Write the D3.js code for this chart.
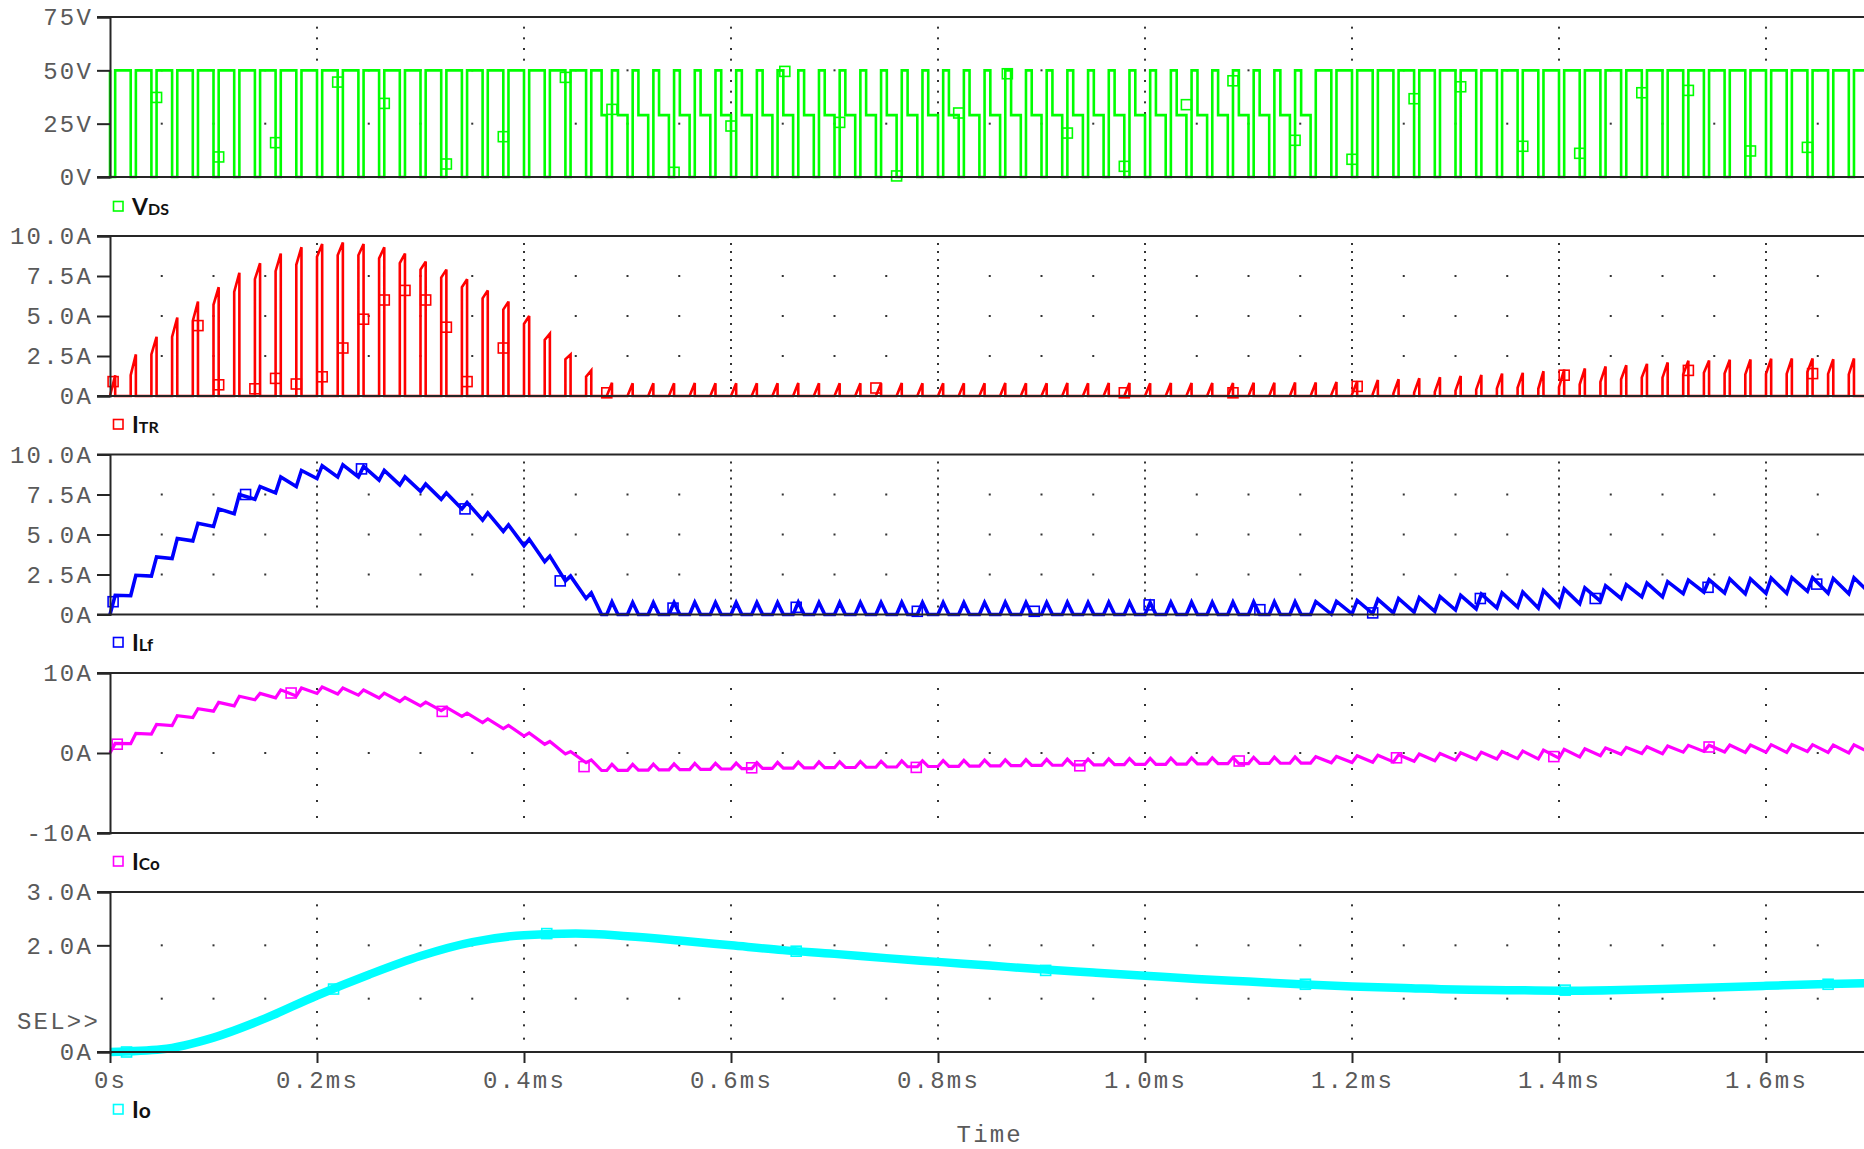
<!DOCTYPE html>
<html>
<head>
<meta charset="utf-8">
<script src="https://cdn.jsdelivr.net/npm/d3@7"></script>
<style>
  html, body { margin: 0; padding: 0; background: #fff; }
  svg { display: block; }
</style>
</head>
<body>
<svg id="chart" width="1864" height="1149"></svg>
<script>
// ---------------- data ----------------
const timeTickValues = [0, 0.2, 0.4, 0.6, 0.8, 1.0, 1.2, 1.4, 1.6];
const timeTickLabels = ["0s", "0.2ms", "0.4ms", "0.6ms", "0.8ms", "1.0ms", "1.2ms", "1.4ms", "1.6ms"];

const switchPeriod = 0.02;      // ms (50 kHz)
const onFraction = 0.25;        // switch conduction share of each period
const dcmFallRate = 2.7;        // A per period, inductor discharge once the load path is empty
const vdsLevels = [0, 29, 50];  // V: switch on, idle (inductor empty), reset

// inductor current: value at turn-on (valley) and turn-off (peak) of each cycle
const ilfValley = [0, 1.17, 2.4, 3.5, 4.6, 5.5, 6.3, 7.2, 7.6, 8.0, 8.5, 8.6, 8.6, 8.4, 8.1, 7.7, 7.2, 6.6, 5.9, 5.2, 4.3, 3.3, 2.1, 1.0,
  0, 0, 0, 0, 0, 0, 0, 0, 0, 0, 0, 0, 0, 0, 0, 0, 0, 0, 0, 0, 0, 0, 0, 0, 0, 0, 0, 0, 0, 0, 0, 0, 0, 0, 0,
  0.02, 0.04, 0.06, 0.1, 0.15, 0.2, 0.28, 0.35, 0.42, 0.46, 0.4, 0.5, 0.67, 0.83, 1.0, 1.1, 1.1, 1.3, 1.4, 1.35, 1.3, 1.33, 1.33, 1.45, 1.33, 1.3, 1.35];
const ilfPeak = [1.2, 2.45, 3.6, 4.75, 5.7, 6.6, 7.5, 8.0, 8.6, 9.0, 9.3, 9.35, 9.25, 9.0, 8.6, 8.15, 7.6, 7.0, 6.35, 5.6, 4.7, 3.65, 2.4, 1.35,
  0.78, 0.75, 0.74, 0.75, 0.76, 0.75, 0.74, 0.75, 0.75, 0.76, 0.75, 0.74, 0.75, 0.75, 0.76, 0.75, 0.75, 0.74, 0.75, 0.76, 0.75, 0.75, 0.76, 0.75, 0.76, 0.76, 0.75, 0.76, 0.77, 0.76, 0.77, 0.78, 0.78, 0.79, 0.8,
  0.82, 0.88, 0.95, 1.0, 1.06, 1.12, 1.2, 1.27, 1.35, 1.4, 1.5, 1.6, 1.67, 1.8, 1.87, 1.96, 2.05, 2.15, 2.17, 2.22, 2.23, 2.28, 2.3, 2.3, 2.25, 2.3];

// transformer / switch current pulses
const itrStart = [0, 1.3, 2.6, 3.7, 4.7, 5.7, 6.5, 7.3, 7.8, 8.2, 8.7, 8.8, 8.8, 8.6, 8.3, 7.9, 7.4, 6.8, 6.1, 5.4, 4.5, 3.5, 2.3, 1.2,
  0, 0, 0, 0, 0, 0, 0, 0, 0, 0, 0, 0, 0, 0, 0, 0, 0, 0, 0, 0, 0, 0, 0, 0, 0, 0, 0, 0, 0, 0, 0, 0, 0, 0, 0,
  0.07, 0.09, 0.11, 0.15, 0.2, 0.25, 0.33, 0.4, 0.47, 0.51, 0.45, 0.55, 0.72, 0.88, 1.05, 1.15, 1.15, 1.35, 1.45, 1.4, 1.35, 1.38, 1.38, 1.5, 1.38, 1.35];
const itrPeak = [1.3, 2.6, 3.7, 4.9, 5.9, 6.8, 7.7, 8.3, 8.9, 9.3, 9.5, 9.6, 9.5, 9.3, 8.9, 8.4, 7.9, 7.3, 6.6, 5.9, 5.0, 3.9, 2.6, 1.6,
  0.83, 0.8, 0.79, 0.8, 0.81, 0.8, 0.79, 0.8, 0.8, 0.81, 0.8, 0.79, 0.8, 0.8, 0.81, 0.8, 0.8, 0.79, 0.8, 0.81, 0.8, 0.8, 0.81, 0.8, 0.81, 0.81, 0.8, 0.81, 0.82, 0.81, 0.82, 0.83, 0.83, 0.84, 0.85,
  0.87, 0.93, 1.0, 1.05, 1.11, 1.17, 1.25, 1.32, 1.4, 1.45, 1.55, 1.65, 1.72, 1.85, 1.92, 2.01, 2.1, 2.2, 2.22, 2.27, 2.28, 2.33, 2.35, 2.35, 2.3, 2.35];

// output capacitor current at turn-on / turn-off of each cycle
const icoValley = [0, 1.16, 2.37, 3.42, 4.44, 5.23, 5.89, 6.65, 6.89, 7.12, 7.44, 7.38, 7.23, 6.88, 6.44, 5.9, 5.29, 4.59, 3.81, 3.05, 2.11, 1.09, -0.12, -1.21,
  -2.19, -2.17, -2.14, -2.11, -2.07, -2.04, -2.0, -1.96, -1.93, -1.9, -1.87, -1.84, -1.81, -1.78, -1.75, -1.72, -1.69, -1.66, -1.63, -1.61, -1.58, -1.55, -1.53, -1.5, -1.48, -1.45, -1.43, -1.41, -1.38, -1.36, -1.34, -1.32, -1.3, -1.28, -1.26,
  -1.23, -1.19, -1.16, -1.11, -1.04, -0.98, -0.89, -0.82, -0.74, -0.7, -0.75, -0.65, -0.48, -0.33, -0.16, -0.07, -0.08, 0.11, 0.2, 0.13, 0.07, 0.09, 0.08, 0.19, 0.06, 0.02, 0.06];
const icoPeak = [1.2, 2.44, 3.57, 4.67, 5.54, 6.33, 7.09, 7.45, 7.89, 8.12, 8.24, 8.13, 7.88, 7.48, 6.94, 6.35, 5.69, 4.99, 4.26, 3.45, 2.51, 1.44, 0.18, -0.86,
  -1.41, -1.42, -1.4, -1.36, -1.31, -1.29, -1.26, -1.21, -1.18, -1.14, -1.12, -1.1, -1.06, -1.03, -0.99, -0.97, -0.94, -0.92, -0.88, -0.85, -0.83, -0.8, -0.77, -0.75, -0.72, -0.69, -0.68, -0.65, -0.61, -0.6, -0.57, -0.54, -0.52, -0.49, -0.46,
  -0.43, -0.35, -0.27, -0.21, -0.13, -0.06, 0.03, 0.1, 0.19, 0.24, 0.35, 0.45, 0.52, 0.64, 0.71, 0.79, 0.87, 0.96, 0.97, 1.0, 1.0, 1.04, 1.05, 1.04, 0.98, 1.02];

// load current samples
const ioTime = [0, 0.05, 0.1, 0.15, 0.2, 0.25, 0.3, 0.35, 0.4, 0.45, 0.5, 0.55, 0.6, 0.65, 0.7, 0.75, 0.8, 0.85, 0.9,
  0.95, 1.0, 1.05, 1.1, 1.15, 1.2, 1.25, 1.3, 1.35, 1.4, 1.45, 1.5, 1.55, 1.6, 1.65, 1.7];
const ioValue = [0, 0.05, 0.27, 0.63, 1.06, 1.45, 1.8, 2.06, 2.19, 2.22, 2.17, 2.09, 2.0, 1.91, 1.84, 1.76, 1.69, 1.62, 1.55,
  1.49, 1.43, 1.37, 1.32, 1.27, 1.23, 1.2, 1.17, 1.16, 1.15, 1.16, 1.18, 1.21, 1.24, 1.27, 1.29];

// trace symbols
const vdsMarkT = [0.045, 0.105, 0.16, 0.22, 0.265, 0.325, 0.38, 0.44, 0.485, 0.545, 0.6, 0.652, 0.705, 0.76, 0.82, 0.867, 0.925, 0.98, 1.04, 1.085, 1.145, 1.2, 1.26, 1.305, 1.365, 1.42, 1.48, 1.525, 1.585, 1.64];
const vdsMarkV = [37.3, 9.4, 16.1, 44.5, 34.5, 6.1, 18.9, 46.7, 31.7, 2.2, 23.9, 49.5, 25.6, 0.5, 30, 48.4, 20.6, 5, 33.9, 45.1, 17.2, 8.3, 36.7, 42.3, 14.4, 11.1, 39.5, 40.6, 12.2, 13.9];
const itrMarkT = [0.003, 0.085, 0.105, 0.14, 0.16, 0.18, 0.205, 0.225, 0.245, 0.265, 0.285, 0.305, 0.325, 0.345, 0.38, 0.48, 0.74, 0.98, 1.085, 1.205, 1.405, 1.525, 1.645];
const itrMarkV = [0.9, 4.4, 0.7, 0.45, 1.1, 0.75, 1.2, 3.0, 4.8, 6.0, 6.6, 6.0, 4.3, 0.9, 3.0, 0.2, 0.5, 0.2, 0.2, 0.6, 1.3, 1.6, 1.4];
const ilfMarkT = [0.003, 0.131, 0.243, 0.343, 0.435, 0.544, 0.663, 0.78, 0.893, 1.004, 1.111, 1.22, 1.324, 1.435, 1.544, 1.649];
const ilfMarkV = [0.8, 7.5, 9.1, 6.6, 2.1, 0.4, 0.45, 0.2, 0.2, 0.6, 0.3, 0.1, 1.0, 1.0, 1.7, 1.9];
const icoMarkT = [0.007, 0.175, 0.321, 0.458, 0.62, 0.779, 0.937, 1.091, 1.243, 1.395, 1.545];
const icoMarkV = [1.1, 7.5, 5.2, -1.7, -1.85, -1.8, -1.6, -1.0, -0.6, -0.45, 0.75];
const ioMarkT = [0.016, 0.216, 0.422, 0.663, 0.904, 1.155, 1.406, 1.66];
const ioMarkV = [0.0, 1.18, 2.22, 1.89, 1.53, 1.27, 1.16, 1.27];

// axis ticks of each panel
const vdsTicks = [0, 25, 50, 75];
const vdsTickLabels = ["0V", "25V", "50V", "75V"];
const ampTicks = [0, 2.5, 5, 7.5, 10];
const ampTickLabels = ["0A", "2.5A", "5.0A", "7.5A", "10.0A"];
const icoTicks = [-10, 0, 10];
const icoTickLabels = ["-10A", "0A", "10A"];
const ioTicks = [0, 2, 3];
const ioTickLabels = ["0A", "2.0A", "3.0A"];

// ---------------- layout ----------------
const svg = d3.select("#chart");
const W = 1864;
const plotLeft = 110;
const panelHeight = 160;
const x = d3.scaleLinear().domain([0, 1.7]).range([plotLeft, 1869.5]);

const panels = [
  { key: "vds", top: 17,    domain: [0, 75],   ticks: vdsTicks, labels: vdsTickLabels, gridY: [25, 50],      minor: 5,    color: "#00ff00", legend: ["V", "DS"], legendY: 215,  legendSize: 16 },
  { key: "itr", top: 236,   domain: [0, 10],   ticks: ampTicks, labels: ampTickLabels, gridY: [2.5, 5, 7.5], minor: 0.5,  color: "#ff0000", legend: ["I", "TR"], legendY: 433,  legendSize: 16 },
  { key: "ilf", top: 454.5, domain: [0, 10],   ticks: ampTicks, labels: ampTickLabels, gridY: [2.5, 5, 7.5], minor: 0.5,  color: "#0000ff", legend: ["I", "Lf"], legendY: 651,  legendSize: 17 },
  { key: "ico", top: 673,   domain: [-10, 10], ticks: icoTicks, labels: icoTickLabels, gridY: [0],           minor: 2,    color: "#ff00ff", legend: ["I", "Co"], legendY: 870,  legendSize: 17 },
  { key: "io",  top: 892,   domain: [0, 3],    ticks: ioTicks,  labels: ioTickLabels,  gridY: [1, 2],        minor: 0.25, color: "#00ffff", legend: ["I", "o"],  legendY: 1118, legendSize: 21 }
];
panels.forEach(p => {
  p.bottom = p.top + panelHeight;
  p.y = d3.scaleLinear().domain(p.domain).range([p.bottom, p.top]);
});

const monoFont = "'Liberation Mono', 'DejaVu Sans Mono', monospace";
const axisColor = "#262626";
const labelColor = "#5a5a5a";
const labelSpacing = "2.2px";

const defs = svg.append("defs");

// ---------------- waveform builders ----------------
const nCycles = ilfPeak.length;
function cycle(k) {
  const t0 = k * switchPeriod;
  const t1 = t0 + onFraction * switchPeriod;
  const t2 = t0 + switchPeriod;
  const dcm = ilfValley[k + 1] === 0;
  const tz = dcm ? Math.min(t2, t1 + ilfPeak[k] / dcmFallRate * switchPeriod) : t2;
  return { t0, t1, t2, dcm, tz };
}

function rippleTrace(valley, peak) {
  const pts = [];
  for (let k = 0; k < nCycles; k++) {
    const c = cycle(k);
    pts.push([c.t0, valley[k]], [c.t1, peak[k]]);
    if (c.dcm) pts.push([c.tz, valley[k + 1]]);
  }
  pts.push([nCycles * switchPeriod, valley[nCycles]]);
  return pts;
}

function itrTrace() {
  const pts = [];
  for (let k = 0; k < nCycles; k++) {
    const c = cycle(k);
    pts.push([c.t0, 0], [c.t0, itrStart[k]], [c.t1, itrPeak[k]], [c.t1, 0]);
  }
  pts.push([nCycles * switchPeriod, 0]);
  return pts;
}

function vdsTrace() {
  const [vOn, vIdle, vReset] = vdsLevels;
  const pts = [[0, vReset]];
  for (let k = 0; k < nCycles; k++) {
    const c = cycle(k);
    pts.push([c.t0, vOn], [c.t1, vOn], [c.t1, vReset]);
    if (c.dcm) pts.push([c.tz, vReset], [c.tz, vIdle], [c.t2, vIdle]);
    else pts.push([c.t2, vReset]);
    pts.push([c.t2, vOn]);
  }
  return pts;
}

const traces = {
  vds: { pts: vdsTrace(), width: 2.6, curve: d3.curveLinear, mt: vdsMarkT, mv: vdsMarkV },
  itr: { pts: itrTrace(), width: 2.6, curve: d3.curveLinear, mt: itrMarkT, mv: itrMarkV },
  ilf: { pts: rippleTrace(ilfValley, ilfPeak), width: 3.6, curve: d3.curveLinear, mt: ilfMarkT, mv: ilfMarkV },
  ico: { pts: rippleTrace(icoValley, icoPeak), width: 3.2, curve: d3.curveLinear, mt: icoMarkT, mv: icoMarkV },
  io:  { pts: ioTime.map((t, i) => [t, ioValue[i]]), width: 8.5, curve: d3.curveMonotoneX, mt: ioMarkT, mv: ioMarkV }
};

// ---------------- draw panels ----------------
panels.forEach((p, i) => {
  const g = svg.append("g").attr("class", "panel-" + p.key);
  const y = p.y;

  // dotted grid: vertical lines at major time ticks, dotted horizontal levels
  const grid = g.append("g").attr("fill", "#333");
  const [d0, d1] = p.domain;
  const minorLevels = d3.range(Math.round((d1 - d0) / p.minor) - 1).map(j => d0 + (j + 1) * p.minor);
  timeTickValues.slice(1).forEach(t => {
    minorLevels.forEach(v => {
      grid.append("rect").attr("x", x(t) - 1).attr("y", y(v) - 1).attr("width", 2).attr("height", 2);
    });
  });
  const minorTimes = d3.range(1, 34).map(j => j * 0.05);
  p.gridY.forEach(v => {
    minorTimes.forEach(t => {
      if (x(t) < W - 2) grid.append("rect").attr("x", x(t) - 1).attr("y", y(v) - 1).attr("width", 2).attr("height", 2);
    });
  });

  // waveform
  defs.append("clipPath").attr("id", "clip-" + p.key)
    .append("rect").attr("x", plotLeft - 4).attr("y", p.top - 6).attr("width", W - plotLeft + 4).attr("height", panelHeight + 12);
  const tr = traces[p.key];
  const line = d3.line().x(d => x(d[0])).y(d => y(d[1])).curve(tr.curve);
  const traceG = g.append("g").attr("clip-path", `url(#clip-${p.key})`);
  traceG.append("path")
    .attr("d", line(tr.pts))
    .attr("fill", "none")
    .attr("stroke", p.color)
    .attr("stroke-width", tr.width)
    .attr("stroke-linejoin", "miter")
    .attr("stroke-miterlimit", 3);
  traceG.selectAll("rect.mark").data(tr.mt.map((t, j) => [t, tr.mv[j]])).enter()
    .append("rect").attr("class", "mark")
    .attr("x", d => x(d[0]) - 5).attr("y", d => y(d[1]) - 5)
    .attr("width", 10).attr("height", 10)
    .attr("fill", "none").attr("stroke", p.color).attr("stroke-width", 1.6);

  // frame: top and bottom rules plus left axis
  g.append("line").attr("x1", plotLeft - 13).attr("x2", W).attr("y1", p.top).attr("y2", p.top)
    .attr("stroke", axisColor).attr("stroke-width", 2);
  g.append("line").attr("x1", plotLeft - 13).attr("x2", W).attr("y1", p.bottom).attr("y2", p.bottom)
    .attr("stroke", axisColor).attr("stroke-width", 2);

  const yAxis = d3.axisLeft(y).tickValues(p.ticks)
    .tickFormat((d, j) => p.labels[j]).tickSize(13).tickPadding(4);
  const ag = g.append("g").attr("transform", `translate(${plotLeft},0)`).call(yAxis);
  ag.select(".domain").attr("stroke", axisColor).attr("stroke-width", 2);
  ag.selectAll(".tick line").attr("stroke", axisColor).attr("stroke-width", 2);
  ag.selectAll(".tick text")
    .attr("fill", labelColor).style("font-family", monoFont).style("font-size", "24px")
    .style("letter-spacing", labelSpacing);

  // legend entry
  const lg = g.append("g");
  lg.append("rect").attr("x", 113.5).attr("y", p.legendY - 13.5).attr("width", 9.5).attr("height", 9.5)
    .attr("fill", "none").attr("stroke", p.color).attr("stroke-width", 1.6);
  const lt = lg.append("text").attr("x", 132).attr("y", p.legendY)
    .attr("fill", "#111").style("font-family", "Lato, 'Open Sans', sans-serif").style("font-weight", 700);
  lt.append("tspan").style("font-size", "23px").text(p.legend[0]);
  lt.append("tspan").style("font-size", p.legendSize + "px").text(p.legend[1]);
});

// selection marker of the active panel
svg.append("text").attr("x", 100).attr("y", 1023).attr("text-anchor", "end")
  .attr("dominant-baseline", "middle")
  .attr("fill", labelColor).style("font-family", monoFont).style("font-size", "24px").style("letter-spacing", labelSpacing)
  .text("SEL>>");

// time axis under the last panel
const last = panels[panels.length - 1];
const xAxis = d3.axisBottom(x).tickValues(timeTickValues)
  .tickFormat((d, j) => timeTickLabels[j]).tickSize(11).tickPadding(8);
const xg = svg.append("g").attr("transform", `translate(0,${last.bottom})`).call(xAxis);
xg.select(".domain").remove();
xg.selectAll(".tick line").attr("stroke", axisColor).attr("stroke-width", 2);
xg.selectAll(".tick text")
  .attr("fill", labelColor).style("font-family", monoFont).style("font-size", "24px").style("letter-spacing", labelSpacing);

svg.append("text").attr("x", (x(0) + x(1.7)) / 2).attr("y", 1142).attr("text-anchor", "middle")
  .attr("fill", labelColor).style("font-family", monoFont).style("font-size", "24px").style("letter-spacing", labelSpacing)
  .text("Time");
</script>
</body>
</html>
